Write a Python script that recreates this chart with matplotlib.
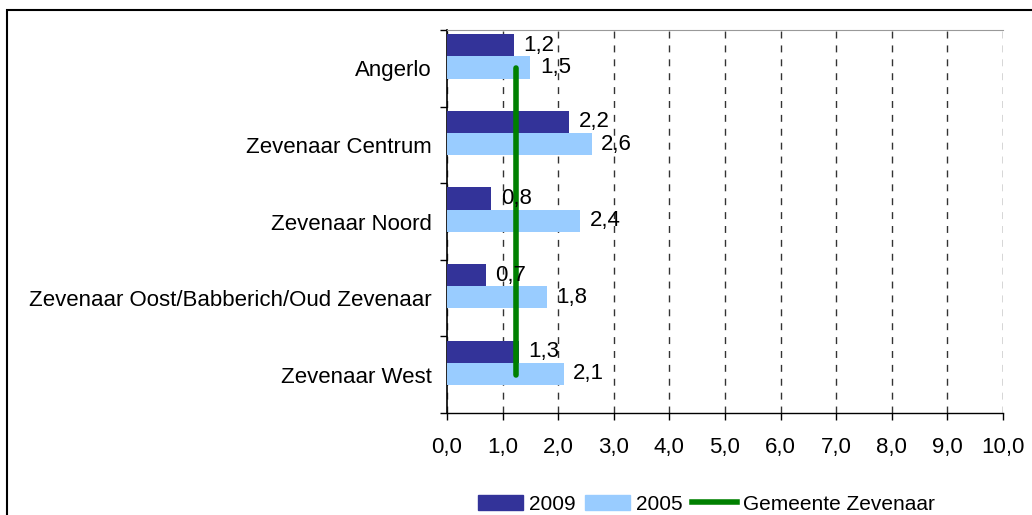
import matplotlib.pyplot as plt
from matplotlib.patches import Rectangle, Patch
from matplotlib.lines import Line2D
import numpy as np

plt.rcParams['font.family'] = ['Liberation Sans', 'DejaVu Sans']

# data
wijken = ["Angerlo", "Zevenaar Centrum", "Zevenaar Noord",
          "Zevenaar Oost/Babberich/Oud Zevenaar", "Zevenaar West"]
waarden_2009 = [1.2, 2.2, 0.8, 0.7, 1.3]
waarden_2005 = [1.5, 2.6, 2.4, 1.8, 2.1]
gemeente = 1.24
xticks = np.arange(0, 11, 1)

col_2009 = "#333399"
col_2005 = "#99CCFF"
col_gem = "#008000"
fs = 16

fig = plt.figure(figsize=(10.32, 5.15), dpi=100)
ax = fig.add_axes([447 / 1032, 1 - 413 / 515, 556 / 1032, 383 / 515])

pos = np.arange(len(wijken))
h = 0.29
ax.barh(pos - 0.30, waarden_2009, height=h, color=col_2009, zorder=3)
ax.barh(pos - 0.01, waarden_2005, height=h, color=col_2005, zorder=3)
ax.plot([gemeente, gemeente], [pos[0], pos[-1]], color=col_gem, lw=4,
        solid_capstyle='round', zorder=4)

for p, v in zip(pos, waarden_2009):
    ax.text(v + 0.17, p - 0.30, f"{v:.1f}".replace(".", ","), va='center',
            ha='left', fontsize=fs, zorder=5)
for p, v in zip(pos, waarden_2005):
    ax.text(v + 0.17, p - 0.01, f"{v:.1f}".replace(".", ","), va='center',
            ha='left', fontsize=fs, zorder=5)

ax.set_xlim(0, 10)
ax.set_ylim(len(wijken) - 0.5, -0.5)
ax.set_xticks(xticks)
ax.set_xticklabels([f"{x:.1f}".replace(".", ",") for x in xticks], fontsize=fs)
ax.set_yticks(pos)
ax.set_yticklabels(wijken, fontsize=fs)
ax.set_yticks(np.arange(-0.5, len(wijken)), minor=True)
ax.tick_params(axis='y', which='major', length=0, pad=11)
ax.tick_params(axis='y', which='minor', length=5, direction='out', width=1)
ax.tick_params(axis='x', length=5, direction='out', width=1, pad=12)

ax.grid(axis='x', color='#333333', linestyle=(0, (5, 5)), lw=1, zorder=1)
ax.spines['right'].set_visible(False)
ax.spines['top'].set_color('#999999')
ax.spines['left'].set_linewidth(1.2)
ax.spines['bottom'].set_linewidth(1)

handles = [Patch(color=col_2009, label='2009'),
           Patch(color=col_2005, label='2005'),
           Line2D([], [], color=col_gem, lw=4, label='Gemeente Zevenaar')]
fig.legend(handles=handles, loc='center', bbox_to_anchor=(706 / 1032, 1 - 504 / 515),
           ncol=3, frameon=False, fontsize=15, handlelength=2.2, handleheight=0.7,
           handletextpad=0.25, columnspacing=0.45, borderpad=0)

fig.patches.append(Rectangle((7 / 1032, -0.05), 1.1, 1 - 10 / 515 + 0.05,
                             transform=fig.transFigure, fill=False,
                             edgecolor='black', lw=1.5))

fig.savefig("out.png", dpi=100)
